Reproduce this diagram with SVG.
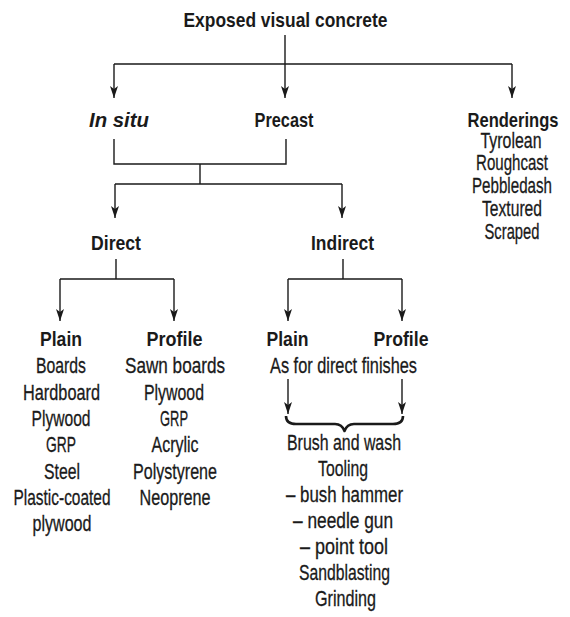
<svg xmlns="http://www.w3.org/2000/svg" width="570" height="617" viewBox="0 0 570 617">
  <defs>
    <marker id="arrow" viewBox="-13 -5 14 10" refX="0" refY="0" markerWidth="14" markerHeight="10" markerUnits="userSpaceOnUse" orient="auto">
      <path d="M0,0 L-12,-4 L-9,0 L-12,4 Z" fill="#1a1a1a"/>
    </marker>
    <style>
      text { font-family: "Liberation Sans", Arial, sans-serif; fill: #1a1a1a; text-anchor: middle; }
      .h { font-weight: bold; font-size: 21px; }
      .t { font-size: 22px; stroke: #1a1a1a; stroke-width: 0.3; }
      .it { font-style: italic; }
      .ln { fill: none; stroke: #1a1a1a; stroke-width: 1.4; }
      .ar { marker-end: url(#arrow); }
      .brace { fill: none; stroke: #1a1a1a; stroke-width: 2.6; stroke-linejoin: round; }
    </style>
  </defs>
  <rect width="570" height="617" fill="#ffffff"/>

  <!-- connectors -->
  <g id="connectors">
    <path class="ln" d="M285,35 V64 M114,64 H512"/>
    <path class="ln ar" d="M114,64 V98"/>
    <path class="ln ar" d="M285,64 V98"/>
    <path class="ln ar" d="M512,64 V98"/>
    <path class="ln" d="M114,139 V164 H286 V139 M200,164 V184 M115,184 H342"/>
    <path class="ln ar" d="M115,184 V218"/>
    <path class="ln ar" d="M342,184 V218"/>
    <path class="ln" d="M116,259 V279 M60,279 H174"/>
    <path class="ln ar" d="M60,279 V321"/>
    <path class="ln ar" d="M174,279 V321"/>
    <path class="ln" d="M343,259 V279 M288,279 H402"/>
    <path class="ln ar" d="M288,279 V321"/>
    <path class="ln ar" d="M402,279 V321"/>
    <path class="ln ar" d="M288,379 V414"/>
    <path class="ln ar" d="M402,379 V414"/>
    <path class="brace" d="M286,416 Q286,424 296,424 L335,424 Q342,424 344.5,431 Q347,424 354,424 L393,424 Q403,424 403,416"/>
  </g>

  <g id="root">
    <text class="h" x="285.5" y="27" textLength="204" lengthAdjust="spacingAndGlyphs">Exposed visual concrete</text>
  </g>

  <g id="in-situ">
    <text class="h it" x="119" y="127" textLength="60" lengthAdjust="spacingAndGlyphs">In situ</text>
  </g>

  <g id="precast">
    <text class="h" x="284" y="127" textLength="59" lengthAdjust="spacingAndGlyphs">Precast</text>
  </g>

  <g id="renderings">
    <text class="h" x="513" y="127" textLength="91" lengthAdjust="spacingAndGlyphs">Renderings</text>
    <text class="t" x="511" y="148" textLength="61" lengthAdjust="spacingAndGlyphs">Tyrolean</text>
    <text class="t" x="512" y="170" textLength="72" lengthAdjust="spacingAndGlyphs">Roughcast</text>
    <text class="t" x="512" y="193" textLength="80" lengthAdjust="spacingAndGlyphs">Pebbledash</text>
    <text class="t" x="512" y="216" textLength="60" lengthAdjust="spacingAndGlyphs">Textured</text>
    <text class="t" x="512" y="239" textLength="55" lengthAdjust="spacingAndGlyphs">Scraped</text>
  </g>

  <g id="direct">
    <text class="h" x="116" y="250" textLength="50" lengthAdjust="spacingAndGlyphs">Direct</text>
  </g>

  <g id="indirect">
    <text class="h" x="342.5" y="250" textLength="63" lengthAdjust="spacingAndGlyphs">Indirect</text>
  </g>

  <g id="direct-plain">
    <text class="h" x="61" y="346" textLength="42" lengthAdjust="spacingAndGlyphs">Plain</text>
    <text class="t" x="61" y="373" textLength="50" lengthAdjust="spacingAndGlyphs">Boards</text>
    <text class="t" x="61.5" y="399.5" textLength="77" lengthAdjust="spacingAndGlyphs">Hardboard</text>
    <text class="t" x="61" y="426" textLength="59" lengthAdjust="spacingAndGlyphs">Plywood</text>
    <text class="t" x="61" y="452" textLength="30" lengthAdjust="spacingAndGlyphs">GRP</text>
    <text class="t" x="62" y="478.5" textLength="36" lengthAdjust="spacingAndGlyphs">Steel</text>
    <text class="t" x="62" y="505" textLength="97" lengthAdjust="spacingAndGlyphs">Plastic-coated</text>
    <text class="t" x="62" y="531" textLength="59" lengthAdjust="spacingAndGlyphs">plywood</text>
  </g>

  <g id="direct-profile">
    <text class="h" x="174.5" y="346" textLength="56" lengthAdjust="spacingAndGlyphs">Profile</text>
    <text class="t" x="175" y="373" textLength="100" lengthAdjust="spacingAndGlyphs">Sawn boards</text>
    <text class="t" x="174" y="399.5" textLength="60" lengthAdjust="spacingAndGlyphs">Plywood</text>
    <text class="t" x="174" y="426" textLength="28" lengthAdjust="spacingAndGlyphs">GRP</text>
    <text class="t" x="175" y="452" textLength="47" lengthAdjust="spacingAndGlyphs">Acrylic</text>
    <text class="t" x="175" y="478.5" textLength="84" lengthAdjust="spacingAndGlyphs">Polystyrene</text>
    <text class="t" x="175" y="505" textLength="71" lengthAdjust="spacingAndGlyphs">Neoprene</text>
  </g>

  <g id="indirect-plain">
    <text class="h" x="287.5" y="346" textLength="42" lengthAdjust="spacingAndGlyphs">Plain</text>
  </g>

  <g id="indirect-profile">
    <text class="h" x="401" y="346" textLength="55" lengthAdjust="spacingAndGlyphs">Profile</text>
  </g>

  <g id="indirect-note">
    <text class="t" x="343.5" y="373" textLength="147" lengthAdjust="spacingAndGlyphs">As for direct finishes</text>
  </g>

  <g id="indirect-finishes">
    <text class="t" x="344" y="450" textLength="114" lengthAdjust="spacingAndGlyphs">Brush and wash</text>
    <text class="t" x="343" y="476" textLength="50" lengthAdjust="spacingAndGlyphs">Tooling</text>
    <text class="t" x="344.5" y="502" textLength="117" lengthAdjust="spacingAndGlyphs">– bush hammer</text>
    <text class="t" x="343" y="528" textLength="100" lengthAdjust="spacingAndGlyphs">– needle gun</text>
    <text class="t" x="344" y="554" textLength="88" lengthAdjust="spacingAndGlyphs">– point tool</text>
    <text class="t" x="344.5" y="580" textLength="91" lengthAdjust="spacingAndGlyphs">Sandblasting</text>
    <text class="t" x="345.5" y="606" textLength="61" lengthAdjust="spacingAndGlyphs">Grinding</text>
  </g>
</svg>
